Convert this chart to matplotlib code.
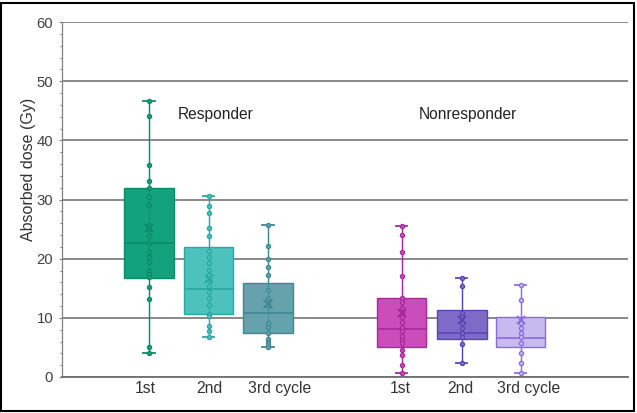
import matplotlib
matplotlib.use('Agg')
import matplotlib.pyplot as plt
from matplotlib.patches import Rectangle
from matplotlib.ticker import MultipleLocator

plt.rcParams['font.family'] = ['Liberation Sans', 'DejaVu Sans']

# ---------------- data ----------------
groups = ['Responder', 'Nonresponder']
cycle_labels = ['1st', '2nd', '3rd cycle']

# box statistics: [whislo, q1, median, q3, whishi, mean]
resp_1st_stats = [4.1, 16.8, 22.7, 32.0, 46.7, 25.1]
resp_2nd_stats = [6.8, 10.6, 14.8, 22.0, 30.6, 16.6]
resp_3rd_stats = [5.1, 7.5, 10.9, 15.9, 25.7, 12.4]
nonr_1st_stats = [0.6, 5.0, 8.1, 13.4, 25.6, 10.8]
nonr_2nd_stats = [2.3, 6.5, 7.5, 11.3, 16.8, 9.6]
nonr_3rd_stats = [0.7, 5.1, 6.6, 10.2, 15.5, 9.6]

# individual data points
resp_1st_pts = [46.7, 44.1, 35.8, 33.2, 31.9, 30.4, 29.1, 25.7, 25.0, 23.9, 22.6,
                21.1, 20.3, 19.5, 18.0, 17.4, 16.9, 15.2, 13.2, 5.1, 4.1]
resp_2nd_pts = [30.6, 28.9, 27.7, 25.2, 23.9, 21.3, 20.3, 19.2, 18.1, 17.2, 16.4,
                15.4, 14.3, 13.3, 12.2, 10.7, 10.3, 8.6, 7.7, 6.8]
resp_3rd_pts = [25.7, 22.1, 19.9, 18.6, 17.3, 14.7, 13.3, 12.1, 9.2, 8.5, 7.5,
                6.5, 5.9, 5.5, 5.1]
nonr_1st_pts = [25.6, 24.0, 21.1, 17.1, 13.3, 12.7, 11.6, 11.0, 10.2, 9.3, 8.5,
                7.7, 6.9, 6.3, 5.7, 4.6, 3.7, 2.0, 0.6]
nonr_2nd_pts = [16.8, 15.4, 10.8, 10.1, 9.1, 8.2, 7.4, 6.7, 5.6, 2.3]
nonr_3rd_pts = [15.5, 13.0, 9.1, 8.2, 7.5, 6.7, 5.8, 4.1, 2.3, 0.7]

all_stats = [resp_1st_stats, resp_2nd_stats, resp_3rd_stats,
             nonr_1st_stats, nonr_2nd_stats, nonr_3rd_stats]
all_pts = [resp_1st_pts, resp_2nd_pts, resp_3rd_pts,
           nonr_1st_pts, nonr_2nd_pts, nonr_3rd_pts]
all_labels = cycle_labels + cycle_labels

# ---------------- style / layout ----------------
fills = ['#12A27D', '#4DC2BC', '#66A2AC', '#CB4DB9', '#7E6BC7', '#C7BAEE']
edges = ['#0D8A66', '#2CA7A1', '#3F8795', '#A62A9A', '#5A45B5', '#8A6BE0']
positions = [0, 1, 2, 4.24, 5.25, 6.24]
label_offsets = [-0.06, 0.02, 0.19, -0.03, -0.02, 0.14]
group_x = [1.12, 5.36]

fig = plt.figure(figsize=(6.37, 4.13), dpi=100)
ax = fig.add_axes([62/637, 1-377/413, (628-62)/637, (377-22)/413])

bstats = []
for s in all_stats:
    bstats.append(dict(whislo=s[0], q1=s[1], med=s[2], q3=s[3], whishi=s[4],
                       mean=s[5], fliers=[]))

bp = ax.bxp(bstats, positions=positions, widths=0.83, patch_artist=True,
            showmeans=True, showfliers=False, capwidths=0.19,
            meanprops=dict(marker='x', markersize=5.5, markeredgewidth=1.4),
            boxprops=dict(linewidth=1.0), whiskerprops=dict(linewidth=1.0),
            capprops=dict(linewidth=1.3), medianprops=dict(linewidth=1.2))

for i in range(len(all_stats)):
    bp['boxes'][i].set_facecolor(fills[i])
    bp['boxes'][i].set_edgecolor(edges[i])
    bp['boxes'][i].set_zorder(2)
    bp['medians'][i].set_color(edges[i])
    bp['medians'][i].set_zorder(3)
    for w in bp['whiskers'][2*i:2*i+2]:
        w.set_color(edges[i])
    for c in bp['caps'][2*i:2*i+2]:
        c.set_color(edges[i])
    bp['means'][i].set_markeredgecolor(edges[i])
    bp['means'][i].set_markerfacecolor(edges[i])
    bp['means'][i].set_zorder(6)
    s = all_stats[i]
    ax.vlines(positions[i], s[0], s[4], color=edges[i], lw=0.8, alpha=0.7, zorder=3)
    ax.plot([positions[i]] * len(all_pts[i]), all_pts[i], 'o', ms=3.0,
            mfc=fills[i], mec=edges[i], mew=0.9, zorder=5, linestyle='none')

ax.set_xlim(-1.46, 8.04)
ax.set_ylim(0, 60)
ax.yaxis.set_major_locator(MultipleLocator(10))
ax.yaxis.set_minor_locator(MultipleLocator(2))
ax.yaxis.grid(True, which='major', color='#808080', linewidth=1.3)
ax.set_axisbelow(True)
ax.set_xticks([])

for sp in ['top', 'right']:
    ax.spines[sp].set_visible(False)
ax.spines['bottom'].set_color('#707070')
ax.spines['bottom'].set_linewidth(1.3)
ax.spines['left'].set_color('#808080')
ax.spines['left'].set_linewidth(0.9)

ax.tick_params(axis='y', which='major', direction='out', length=2.2, width=0.8,
               color='#808080', pad=4.2, labelsize=10.7, labelcolor='#404040')
ax.tick_params(axis='y', which='minor', direction='out', length=1.6, width=0.8,
               color='#808080')

ax.set_ylabel('Absorbed dose (Gy)', fontsize=11.5, color='#333333')
ax.yaxis.set_label_coords(-0.046, 0.586)

for p, off, lab in zip(positions, label_offsets, all_labels):
    ax.text(p + off, -2.0, lab, ha='center', va='center', fontsize=11.3,
            color='#333333', clip_on=False)

for gx, g in zip(group_x, groups):
    ax.text(gx, 44.3, g, ha='center', va='center', fontsize=11.2, color='#222222')

fig.patches.append(Rectangle((1.5/637, 2.5/413), (634-1.5)/637, (410.5-2.5)/413,
                             transform=fig.transFigure, fill=False,
                             edgecolor='black', linewidth=1.5))

fig.savefig('out.png', dpi=100)
